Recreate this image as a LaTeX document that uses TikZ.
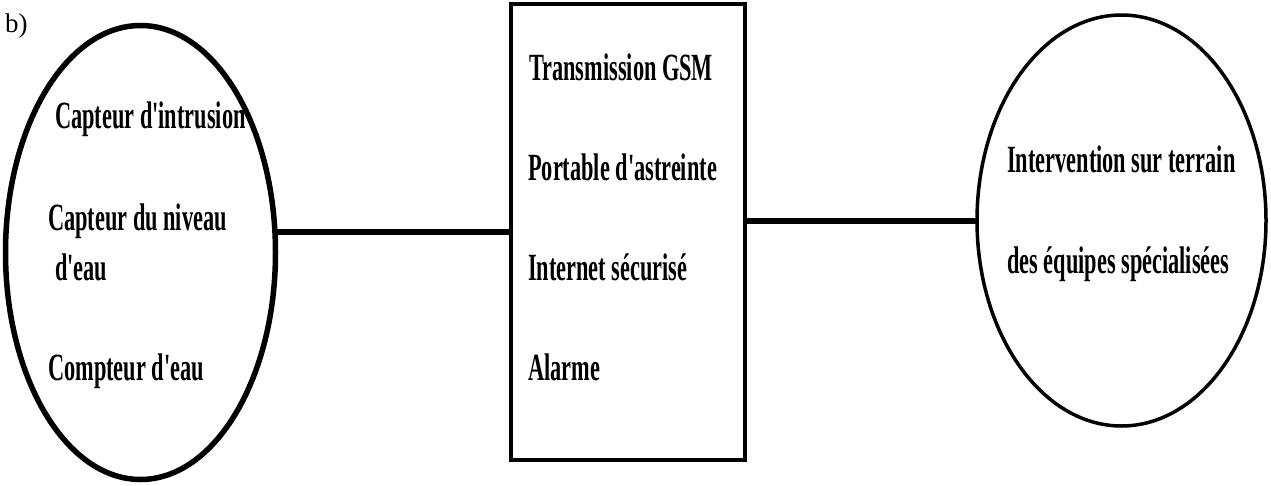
\documentclass[tikz,border=0pt]{standalone}
\usepackage{fontspec}
\setmainfont{Liberation Serif}
\newfontfamily\condfont{Liberation Serif}[FakeStretch=0.58]
\usetikzlibrary{shapes.geometric}

\tikzset{
  blob/.style={ellipse, draw=black, inner sep=0pt, outer sep=0pt},
  panel/.style={rectangle, draw=black, line width=3.5pt, inner sep=0pt, outer sep=0pt},
  link/.style={draw=black, line width=6pt},
  item/.style={anchor=base west, inner sep=0pt, font=\condfont\bfseries\fontsize{38.5pt}{41pt}\selectfont},
}

\begin{document}
\begin{tikzpicture}[x=1pt, y=-1pt]
  \useasboundingbox (0,0) rectangle (1271,485);

  % figure tag
  \node[anchor=base west, inner sep=0pt, font=\fontsize{27pt}{30pt}\selectfont] (tag) at (5,32) {b)};

  % sensors (left), transmission channels (middle), field response (right)
  \node[blob, line width=5.5pt, minimum width=270pt, minimum height=454pt] (sensors) at (140.5,252.5) {};
  \node[panel, minimum width=234pt, minimum height=456pt] (channels) at (628,232) {};
  \node[blob, line width=3.5pt, minimum width=289pt, minimum height=411pt] (field) at (1121.5,220.5) {};

  % connectors
  \draw[link] (channels.west) -- (channels.west -| sensors.east);
  \draw[link] (channels.east |- field.west) -- (field.west);

  % sensor labels
  \node[item] (s1) at (55,128) {Capteur d'intrusion};
  \node[item] (s2) at (48,230) {Capteur du niveau};
  \node[item] (s3) at (55,280) {d'eau};
  \node[item] (s4) at (48,380) {Compteur d'eau};

  % channel labels
  \node[item] (c1) at (529,80) {Transmission GSM};
  \node[item] (c2) at (528,180) {Portable d'astreinte};
  \node[item] (c3) at (528,280) {Internet sécurisé};
  \node[item] (c4) at (528,380) {Alarme};

  % response labels
  \node[item] (f1) at (1007,172) {Intervention sur terrain};
  \node[item] (f2) at (1007,273) {des équipes spécialisées};
\end{tikzpicture}
\end{document}
